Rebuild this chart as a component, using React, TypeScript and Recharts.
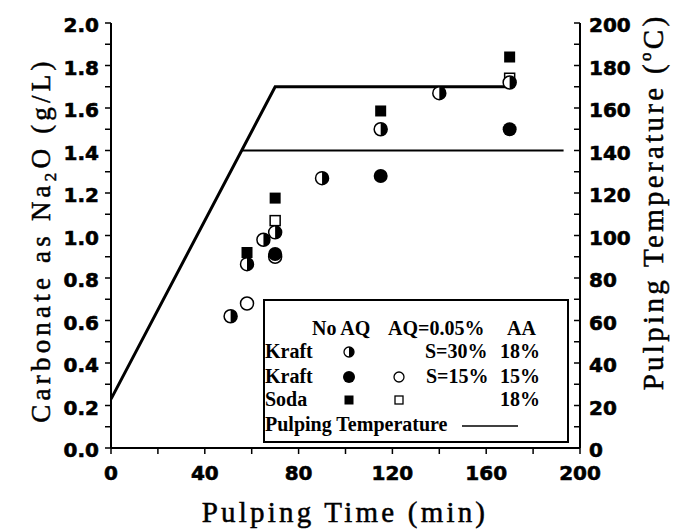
import React from 'react';
import { ComposedChart, Scatter, XAxis, YAxis } from 'recharts';

// ---- data ----
const timeTicks = [0, 20, 40, 60, 80, 100, 120, 140, 160, 180, 200];
const carbonateTicks = [0, 0.1, 0.2, 0.3, 0.4, 0.5, 0.6, 0.7, 0.8, 0.9, 1.0, 1.1, 1.2, 1.3, 1.4, 1.5, 1.6, 1.7, 1.8, 1.9, 2.0];
const tempTicks = [0, 10, 20, 30, 40, 50, 60, 70, 80, 90, 100, 110, 120, 130, 140, 150, 160, 170, 180, 190, 200];

// Kraft S=30% AA 18%, no AQ (half-filled circle)
const kraft30NoAQ = [
  { t: 51, c: 0.62 },
  { t: 58, c: 0.865 },
  { t: 65, c: 0.98 },
  { t: 70, c: 1.015 },
  { t: 90, c: 1.27 },
  { t: 115, c: 1.5 },
  { t: 140, c: 1.67 },
  { t: 170, c: 1.72 },
];
// Kraft S=15% AA 15%, no AQ (filled circle)
const kraft15NoAQ = [
  { t: 70, c: 0.913 },
  { t: 115, c: 1.28 },
  { t: 170, c: 1.5 },
];
// Kraft S=15% AA 15%, AQ 0.05% (open circle)
const kraft15AQ = [
  { t: 58, c: 0.68 },
  { t: 70, c: 0.9 },
];
// Soda AA 18%, no AQ (filled square)
const sodaNoAQ = [
  { t: 58, c: 0.92 },
  { t: 70, c: 1.176 },
  { t: 115, c: 1.586 },
  { t: 170, c: 1.84 },
];
// Soda AA 18%, AQ 0.05% (open square)
const sodaAQ = [
  { t: 70, c: 1.07 },
  { t: 170, c: 1.74 },
];
// Pulping temperature profiles (deg C)
const tempRamp170 = [
  { t: 0, temp: 23 },
  { t: 70, temp: 170 },
  { t: 170, temp: 170 },
];
const temp140 = [
  { t: 55.7, temp: 140 },
  { t: 193, temp: 140 },
];

// ---- shapes ----
const HalfCircle = (props: any) => {
  const { cx, cy } = props;
  const r = 6.5;
  return (
    <g>
      <circle cx={cx} cy={cy} r={r} fill="#fff" stroke="#000" strokeWidth={1.5} />
      <path d={`M${cx},${cy - r} A${r},${r} 0 0 1 ${cx},${cy + r} Z`} fill="#000" />
    </g>
  );
};
const FilledCircle = (props: any) => <circle cx={props.cx} cy={props.cy} r={7} fill="#000" />;
const OpenCircle = (props: any) => (
  <circle cx={props.cx} cy={props.cy} r={6.5} fill="#fff" stroke="#000" strokeWidth={1.5} />
);
const FilledSquare = (props: any) => (
  <rect x={props.cx - 5.5} y={props.cy - 5.5} width={11} height={11} fill="#000" />
);
const OpenSquare = (props: any) => (
  <rect x={props.cx - 5} y={props.cy - 5} width={10} height={10} fill="#fff" stroke="#000" strokeWidth={1.5} />
);
const NoShape = () => <g />;

const tickFont = {
  fontFamily: 'DejaVu Sans',
  fontWeight: 'bold',
  fontSize: 20,
  fill: '#000',
  stroke: '#000',
  strokeWidth: 0.6,
} as any;
const yTickFont = { ...tickFont, dy: 2 } as any;
const axisLine = { stroke: '#000', strokeWidth: 2 };
const tickLine = { stroke: '#000', strokeWidth: 1.5 };

const serif = "'Liberation Serif', 'Times New Roman', serif";

export default function App() {
  return (
    <div style={{ position: 'absolute', left: 0, top: 0, width: 674, height: 531, background: '#fff' }}>
      <ComposedChart width={674} height={531} margin={{ top: 23, right: 0, bottom: 0, left: 0 }}>
        <XAxis
          xAxisId="b"
          type="number"
          dataKey="t"
          domain={[0, 200]}
          ticks={timeTicks}
          interval={0}
          height={83}
          tickSize={6}
          tickMargin={12}
          tick={tickFont}
          tickFormatter={(v: number) => (v % 40 === 0 ? String(v) : '')}
          axisLine={axisLine}
          tickLine={tickLine}
          allowDataOverflow
        />
        <XAxis
          xAxisId="t"
          orientation="top"
          type="number"
          dataKey="t"
          domain={[0, 200]}
          ticks={timeTicks}
          interval={0}
          height={0}
          tickSize={-6}
          tick={false}
          axisLine={axisLine}
          tickLine={tickLine}
          allowDataOverflow
        />
        <YAxis
          yAxisId="l"
          type="number"
          dataKey="c"
          domain={[0, 2]}
          ticks={carbonateTicks}
          interval={0}
          width={111}
          tickSize={6}
          tickMargin={6}
          tick={yTickFont}
          tickFormatter={(v: number) => (Math.round(v * 10) % 2 === 0 ? v.toFixed(1) : '')}
          axisLine={axisLine}
          tickLine={tickLine}
          allowDataOverflow
        />
        <YAxis
          yAxisId="r"
          orientation="right"
          type="number"
          dataKey="temp"
          domain={[0, 200]}
          ticks={tempTicks}
          interval={0}
          width={94}
          tickSize={-6}
          tickMargin={15}
          tick={yTickFont}
          tickFormatter={(v: number) => (v % 20 === 0 ? String(v) : '')}
          axisLine={axisLine}
          tickLine={tickLine}
          allowDataOverflow
        />
        <Scatter
          xAxisId="b"
          yAxisId="r"
          data={tempRamp170}
          line={{ stroke: '#000', strokeWidth: 3 }}
          shape={NoShape}
          isAnimationActive={false}
        />
        <Scatter
          xAxisId="b"
          yAxisId="r"
          data={temp140}
          line={{ stroke: '#000', strokeWidth: 2 }}
          shape={NoShape}
          isAnimationActive={false}
        />
        <Scatter xAxisId="b" yAxisId="l" data={kraft15AQ} shape={OpenCircle} isAnimationActive={false} />
        <Scatter xAxisId="b" yAxisId="l" data={kraft15NoAQ} shape={FilledCircle} isAnimationActive={false} />
        <Scatter xAxisId="b" yAxisId="l" data={sodaAQ} shape={OpenSquare} isAnimationActive={false} />
        <Scatter xAxisId="b" yAxisId="l" data={sodaNoAQ} shape={FilledSquare} isAnimationActive={false} />
        <Scatter xAxisId="b" yAxisId="l" data={kraft30NoAQ} shape={HalfCircle} isAnimationActive={false} />
      </ComposedChart>
      <svg
        width={674}
        height={531}
        style={{ position: 'absolute', left: 0, top: 0, pointerEvents: 'none' }}
      >
        {/* axis titles */}
        <text
          x={345}
          y={522}
          textAnchor="middle"
          fontFamily={serif}
          fontSize={29}
          letterSpacing={3.2}
          fill="#000"
          stroke="#000"
          strokeWidth={0.5}
        >
          Pulping Time (min)
        </text>
        <text
          x={50}
          y={240}
          transform="rotate(-90 50 240)"
          textAnchor="middle"
          fontFamily={serif}
          fontSize={27}
          letterSpacing={4.2}
          fill="#000"
          stroke="#000"
          strokeWidth={0.5}
        >
          Carbonate as Na
          <tspan fontSize={17} dy={6}>2</tspan>
          <tspan dy={-6}>O (g/L)</tspan>
        </text>
        <text
          x={663}
          y={202}
          transform="rotate(-90 663 202)"
          textAnchor="middle"
          fontFamily={serif}
          fontSize={29}
          letterSpacing={3.3}
          fill="#000"
          stroke="#000"
          strokeWidth={0.5}
        >
          Pulping Temperature (
          <tspan fontSize={17} dy={-12}>o</tspan>
          <tspan dy={12}>C)</tspan>
        </text>

        {/* legend box */}
        <rect x={264} y={300} width={304} height={142} fill="none" stroke="#000" strokeWidth={2} />
        <g fontFamily={serif} fontWeight="bold" fontSize={20} fill="#000">
          <text x={312} y={335}>No AQ</text>
          <text x={388} y={335}>AQ=0.05%</text>
          <text x={507} y={335}>AA</text>
          <text x={265} y={358}>Kraft</text>
          <text x={425} y={358}>S=30%</text>
          <text x={500} y={358}>18%</text>
          <text x={265} y={383}>Kraft</text>
          <text x={426} y={383}>S=15%</text>
          <text x={500} y={383}>15%</text>
          <text x={265} y={406}>Soda</text>
          <text x={500} y={406}>18%</text>
          <text x={265} y={431}>Pulping Temperature</text>
        </g>
        <line x1={462} y1={426} x2={518} y2={426} stroke="#000" strokeWidth={1.5} />
        <circle cx={349} cy={352} r={5} fill="#fff" stroke="#000" strokeWidth={1.3} />
        <path d="M349,347 A5,5 0 0 1 349,357 Z" fill="#000" />
        <circle cx={349} cy={377} r={6} fill="#000" />
        <circle cx={399} cy={377} r={5} fill="#fff" stroke="#000" strokeWidth={1.3} />
        <rect x={344.5} y={395.5} width={9} height={9} fill="#000" />
        <rect x={395} y={396} width={8} height={8} fill="#fff" stroke="#000" strokeWidth={1.3} />
      </svg>
    </div>
  );
}
